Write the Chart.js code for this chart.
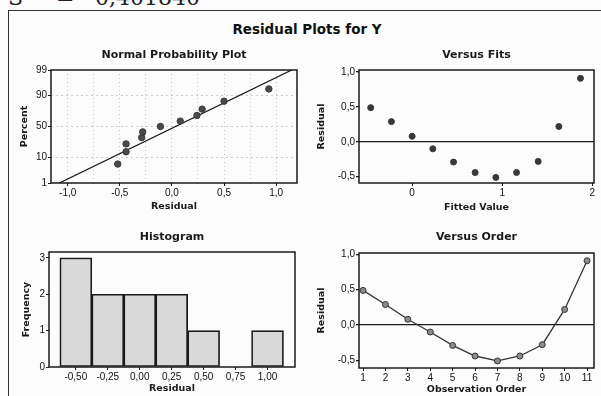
<!DOCTYPE html>
<html>
<head>
<meta charset="utf-8">
<title>Residual Plots for Y</title>
<script src="https://cdn.jsdelivr.net/npm/chart.js@4.4.1/dist/chart.umd.min.js"></script>
<style>
  body { margin: 0; width: 601px; height: 396px; overflow: hidden; position: relative; background: #fcfcfc; }
  .frame { position: absolute; left: 8px; top: 10px; width: 640px; height: 420px;
           border-top: 1.5px solid #333; border-left: 1.5px solid #333; }
  .stat { position: absolute; top: -14px; line-height: 24px; font-family: "DejaVu Serif", serif;
          font-size: 22px; color: #222; }
  #mainTitle { position: absolute; left: 0; width: 614px; top: 21px; line-height: 16px; text-align: center;
               font: bold 13.5px "DejaVu Sans", sans-serif; color: #111; }
  canvas { position: absolute; }
</style>
</head>
<body>
<span class="stat" style="left:8px">S</span>
<span class="stat" style="left:56px">=</span>
<span class="stat" style="left:95px">0,401840</span>
<div class="frame"></div>
<div id="mainTitle">Residual Plots for Y</div>
<canvas id="nppChart"></canvas>
<canvas id="fitsChart"></canvas>
<canvas id="histChart"></canvas>
<canvas id="orderChart"></canvas>
<script>
// residuals in observation order, and their fitted values
const ORDER = [1, 2, 3, 4, 5, 6, 7, 8, 9, 10, 11];
const RESIDUALS = [0.49, 0.29, 0.08, -0.10, -0.29, -0.44, -0.51, -0.44, -0.28, 0.22, 0.91];
const FITTED = [-0.46, -0.23, 0.00, 0.23, 0.46, 0.70, 0.93, 1.16, 1.40, 1.63, 1.87];

// normal probability plot
const NPP_RESID = [-0.52, -0.44, -0.44, -0.29, -0.28, -0.11, 0.08, 0.24, 0.29, 0.50, 0.93];
const NPP_PCT = [6.1, 14.9, 23.7, 32.5, 41.2, 50.0, 58.8, 67.5, 76.3, 85.1, 93.9];
const NPP_LINE_RESID = [-1.08, 1.15];
const NPP_LINE_PCT = [1, 99];
const NPP_X_TICKS = [-1, -0.75, -0.5, -0.25, 0, 0.25, 0.5, 0.75, 1];
const NPP_Y_TICKS = [1, 10, 50, 90, 99];

// histogram
const HIST_BINS = [-0.50, -0.25, 0.00, 0.25, 0.50, 0.75, 1.00];
const HIST_COUNTS = [3, 2, 2, 2, 1, 0, 1];
const HIST_Y_TICKS = [0, 1, 2, 3];

const FITS_X_TICKS = [0, 1, 2];
const RESID_Y_TICKS = [-0.5, 0, 0.5, 1];

const INK = '#1a1a1a';
const TICK_FONT = { family: 'Liberation Sans', size: 10 };
const AXIS_FONT = { family: 'DejaVu Sans', size: 9.5, weight: 'bold' };
const TITLE_FONT = { family: 'DejaVu Sans', size: 11, weight: 'bold' };
const comma = (v, d) => v.toFixed(d).replace('.', ',');

// inverse of the standard normal cdf (Acklam)
function probit(p) {
    const a = [-39.69683028665376, 220.9460984245205, -275.9285104469687, 138.3577518672690, -30.66479806614716, 2.506628277459239];
    const b = [-54.47609879822406, 161.5858368580409, -155.6989798598866, 66.80131188771972, -13.28068155288572];
    const c = [-0.007784894002430293, -0.3223964580411365, -2.400758277161838, -2.549732539343734, 4.374664141464968, 2.938163982698783];
    const d = [0.007784695709041462, 0.3224671290700398, 2.445134137142996, 3.754408661907416];
    const lo = 0.02425;
    let q, r;
    if (p < lo) {
        q = Math.sqrt(-2 * Math.log(p));
        return (((((c[0]*q+c[1])*q+c[2])*q+c[3])*q+c[4])*q+c[5]) / ((((d[0]*q+d[1])*q+d[2])*q+d[3])*q+1);
    }
    if (p > 1 - lo) {
        q = Math.sqrt(-2 * Math.log(1 - p));
        return -(((((c[0]*q+c[1])*q+c[2])*q+c[3])*q+c[4])*q+c[5]) / ((((d[0]*q+d[1])*q+d[2])*q+d[3])*q+1);
    }
    q = p - 0.5; r = q * q;
    return (((((a[0]*r+a[1])*r+a[2])*r+a[3])*r+a[4])*r+a[5])*q / (((((b[0]*r+b[1])*r+b[2])*r+b[3])*r+b[4])*r+1);
}

// percent axis on a normal probability scale
class ProbitScale extends Chart.LinearScale {
    static id = 'probit';
    static defaults = Chart.LinearScale.defaults;
    buildTicks() {
        return NPP_Y_TICKS.map(v => ({ value: v }));
    }
    getPixelForValue(value) {
        const lo = probit(this.min / 100), hi = probit(this.max / 100);
        return this.getPixelForDecimal((probit(value / 100) - lo) / (hi - lo));
    }
}
Chart.register(ProbitScale);

const frameBox = {
    id: 'frameBox',
    afterDatasetsDraw(chart) {
        const { ctx, chartArea: a } = chart;
        ctx.save();
        ctx.strokeStyle = INK;
        ctx.lineWidth = 1.5;
        ctx.strokeRect(a.left, a.top, a.right - a.left, a.bottom - a.top);
        ctx.restore();
    }
};

const fixedTicks = list => scale => { scale.ticks = list.map(v => ({ value: v })); };

// cv: canvas rect, box: plot frame, pos: title / axis title centres (page coords)
function panel(id, cv, box, pos, cfg) {
    const canvas = document.getElementById(id);
    canvas.style.left = cv.x + 'px';
    canvas.style.top = cv.y + 'px';
    canvas.width = cv.w;
    canvas.height = cv.h;

    const lh = TITLE_FONT.size * 1.2;
    const axisLh = AXIS_FONT.size * 1.2;
    const titleTop = pos.title - cv.y - lh / 2;
    const x = cfg.scales.x, y = cfg.scales.y;

    x.afterFit = s => { s.height = cv.y + cv.h - box.b; };
    y.afterFit = s => { s.width = box.l - cv.x; };
    x.title = { display: true, text: pos.xText, color: INK, font: AXIS_FONT,
                padding: { top: 0, bottom: cv.y + cv.h - pos.xTitle - axisLh / 2 } };
    y.title = { display: true, text: pos.yText, color: INK, font: AXIS_FONT,
                padding: { top: pos.yTitle - cv.x - axisLh / 2, bottom: 0 } };
    for (const s of [x, y]) {
        s.ticks = Object.assign({ color: '#111', font: TICK_FONT, padding: 1 }, s.ticks);
        s.grid = Object.assign({ tickLength: 3, tickColor: INK, drawOnChartArea: false }, s.grid);
        s.border = Object.assign({ display: false }, s.border);
    }

    return new Chart(canvas, {
        type: cfg.type,
        data: { datasets: cfg.datasets },
        plugins: [frameBox],
        options: {
            responsive: false,
            animation: false,
            devicePixelRatio: 1,
            layout: { padding: { left: 0, top: 0, bottom: 0, right: cv.x + cv.w - box.r } },
            plugins: {
                legend: { display: false },
                tooltip: { enabled: false },
                title: {
                    display: true, text: pos.titleText, color: INK, font: TITLE_FONT, fullSize: false,
                    padding: { top: titleTop, bottom: box.t - cv.y - titleTop - lh }
                }
            },
            scales: cfg.scales
        }
    });
}

const zeroLine = ctx => (ctx.tick && ctx.tick.value === 0 ? INK : 'rgba(0,0,0,0)');
const isHalf = v => Math.abs(v * 2 - Math.round(v * 2)) < 1e-6;

// Normal Probability Plot
panel('nppChart', { x: 10, y: 40, w: 296, h: 175 }, { l: 51, t: 70, r: 297, b: 183 },
    { title: 55, titleText: 'Normal Probability Plot', xTitle: 207, xText: 'Residual', yTitle: 25, yText: 'Percent' },
    {
        type: 'scatter',
        datasets: [
            {
                data: NPP_RESID.map((r, i) => ({ x: r, y: NPP_PCT[i] })),
                pointRadius: 3.2, pointBackgroundColor: '#4a4a4a', pointBorderColor: '#3a3a3a'
            },
            {
                data: NPP_LINE_RESID.map((r, i) => ({ x: r, y: NPP_LINE_PCT[i] })),
                showLine: true, pointRadius: 0, borderColor: INK, borderWidth: 1.3
            }
        ],
        scales: {
            x: {
                type: 'linear', min: -1.16, max: 1.2,
                afterBuildTicks: fixedTicks(NPP_X_TICKS),
                ticks: { callback: v => (isHalf(v) ? comma(v, 1) : '') },
                grid: {
                    drawOnChartArea: true, color: '#c4c4c4', lineWidth: 1,
                    tickColor: ctx => (isHalf(ctx.tick.value) ? INK : 'rgba(0,0,0,0)')
                },
                border: { dash: [1, 3] }
            },
            y: {
                type: 'probit', min: 1, max: 99,
                ticks: { callback: v => String(v) },
                grid: {
                    drawOnChartArea: true, lineWidth: 1,
                    color: ctx => (ctx.tick.value === 1 || ctx.tick.value === 99 ? 'rgba(0,0,0,0)' : '#cccccc')
                },
                border: { dash: [2, 3] }
            }
        }
    });

// Versus Fits
panel('fitsChart', { x: 300, y: 40, w: 301, h: 175 }, { l: 359, t: 70, r: 594, b: 183 },
    { title: 55, titleText: 'Versus Fits', xTitle: 208, xText: 'Fitted Value', yTitle: 322, yText: 'Residual' },
    {
        type: 'scatter',
        datasets: [{
            data: FITTED.map((f, i) => ({ x: f, y: RESIDUALS[i] })),
            pointRadius: 3, pointBackgroundColor: '#383838', pointBorderColor: '#383838'
        }],
        scales: {
            x: {
                type: 'linear', min: -0.59, max: 2.02,
                afterBuildTicks: fixedTicks(FITS_X_TICKS),
                ticks: { callback: v => String(v) }
            },
            y: {
                type: 'linear', min: -0.59, max: 1.03,
                afterBuildTicks: fixedTicks(RESID_Y_TICKS),
                ticks: { callback: v => comma(v, 1) },
                grid: { drawOnChartArea: true, color: zeroLine, lineWidth: 1.3 }
            }
        }
    });

// Histogram
panel('histChart', { x: 10, y: 220, w: 296, h: 176 }, { l: 49, t: 252, r: 295, b: 367 },
    { title: 237, titleText: 'Histogram', xTitle: 389, xText: 'Residual', yTitle: 27, yText: 'Frequency' },
    {
        type: 'bar',
        datasets: [{
            data: HIST_BINS.map((b, i) => ({ x: b, y: HIST_COUNTS[i] })),
            backgroundColor: '#d9d9d9', borderColor: INK, borderWidth: 1.7, borderSkipped: false,
            barPercentage: 1, categoryPercentage: 1
        }],
        scales: {
            x: {
                type: 'linear', min: -0.71, max: 1.215, offset: false,
                afterBuildTicks: fixedTicks(HIST_BINS),
                ticks: { callback: v => comma(v, 2) },
                grid: { offset: false }
            },
            y: {
                type: 'linear', min: 0, max: 3.16,
                afterBuildTicks: fixedTicks(HIST_Y_TICKS),
                ticks: { callback: v => String(v) }
            }
        }
    });

// Versus Order
panel('orderChart', { x: 300, y: 220, w: 301, h: 176 }, { l: 359, t: 253, r: 594, b: 368 },
    { title: 237, titleText: 'Versus Order', xTitle: 390, xText: 'Observation Order', yTitle: 322, yText: 'Residual' },
    {
        type: 'scatter',
        datasets: [{
            data: ORDER.map((o, i) => ({ x: o, y: RESIDUALS[i] })),
            showLine: true, borderColor: '#333', borderWidth: 1.3,
            pointRadius: 3, pointBackgroundColor: '#8c8c8c', pointBorderColor: '#333', pointBorderWidth: 1
        }],
        scales: {
            x: {
                type: 'linear', min: 0.82, max: 11.31,
                afterBuildTicks: fixedTicks(ORDER),
                ticks: { callback: v => String(v) }
            },
            y: {
                type: 'linear', min: -0.61, max: 1.02,
                afterBuildTicks: fixedTicks(RESID_Y_TICKS),
                ticks: { callback: v => comma(v, 1) },
                grid: { drawOnChartArea: true, color: zeroLine, lineWidth: 1.3 }
            }
        }
    });
</script>
</body>
</html>
